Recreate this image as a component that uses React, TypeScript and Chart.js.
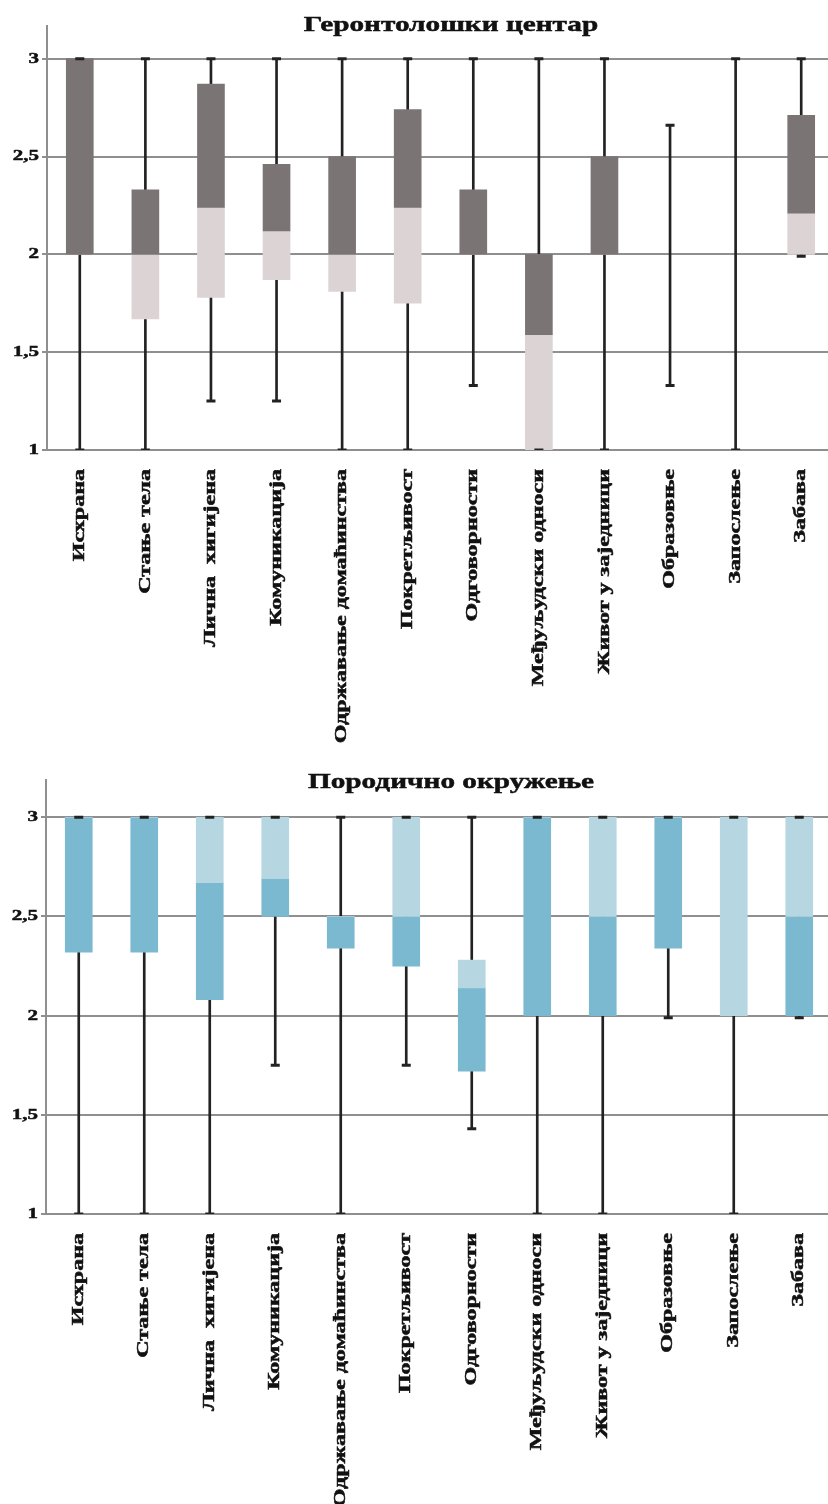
import React, { useEffect, useRef } from "react";
import { Chart, registerables } from "chart.js";

Chart.register(...registerables);

const CATEGORIES = [
  "Исхрана",
  "Стање тела",
  "Лична  хигијена",
  "Комуникација",
  "Одржавање домаћинства",
  "Покретљивост",
  "Одговорности",
  "Међуљудски односи",
  "Живот у заједници",
  "Образовње",
  "Запослење",
  "Забава",
];

const Y_TICKS = [1, 1.5, 2, 2.5, 3];
const Y_TICK_LABELS = ["1", "1,5", "2", "2,5", "3"];

// Геронтолошки центар
const TOP_TITLE = "Геронтолошки центар";
const TOP_MIN = [1, 1, 1.25, 1.25, 1, 1, 1.33, 1, 1, 1.33, 1, 1.99];
const TOP_Q1 = [2, 1.67, 1.78, 1.87, 1.81, 1.75, 2, 1, 2, null, null, 2];
const TOP_MED = [2, 2, 2.24, 2.12, 2, 2.24, 2, 1.59, 2, null, null, 2.21];
const TOP_Q3 = [3, 2.33, 2.87, 2.46, 2.5, 2.74, 2.33, 2, 2.5, null, null, 2.71];
const TOP_MAX = [3, 3, 3, 3, 3, 3, 3, 3, 3, 2.66, 3, 3];

// Породично окружење
const BOTTOM_TITLE = "Породично окружење";
const BOTTOM_MIN = [1, 1, 1, 1.75, 1, 1.75, 1.43, 1, 1, 1.99, 1, 1.99];
const BOTTOM_Q1 = [2.32, 2.32, 2.08, 2.5, 2.34, 2.25, 1.72, 2, 2, 2.34, 2, 2];
const BOTTOM_MED = [3, 3, 2.67, 2.69, 2.5, 2.5, 2.14, 3, 2.5, 3, 2, 2.5];
const BOTTOM_Q3 = [3, 3, 3, 3, 2.5, 3, 2.28, 3, 3, 3, 3, 3];
const BOTTOM_MAX = [3, 3, 3, 3, 3, 3, 3, 3, 3, 3, 3, 3];

const FONT = '"Liberation Serif", "Times New Roman", serif';
const TEXT_COLOR = "#111111";
const GRID_COLOR = "#8f8f8f";
const WHISKER_COLOR = "#222222";

type PanelSpec = {
  title: string;
  min: number[];
  q1: (number | null)[];
  med: (number | null)[];
  q3: (number | null)[];
  max: number[];
  lowerColor: string;
  upperColor: string;
  width: number;
  height: number;
  padTop: number;
  padBottom: number;
  padRight: number;
  axisWidth: number;
  yMax: number;
  titleX: number;
  titleY: number;
};

function makeTextPlugin(spec: PanelSpec) {
  return {
    id: "panelText",
    afterDraw(chart: any) {
      const ctx = chart.ctx as CanvasRenderingContext2D;
      const xs = chart.scales.x;
      const ys = chart.scales.y;
      const area = chart.chartArea;
      ctx.save();
      ctx.fillStyle = TEXT_COLOR;
      ctx.strokeStyle = TEXT_COLOR;
      ctx.lineWidth = 0.5;

      // title
      ctx.save();
      ctx.font = `bold 22px ${FONT}`;
      ctx.textAlign = "center";
      ctx.textBaseline = "alphabetic";
      ctx.translate(spec.titleX, spec.titleY);
      ctx.scale(1.33, 1);
      ctx.fillText(spec.title, 0, 0);
      ctx.strokeText(spec.title, 0, 0);
      ctx.restore();

      // y labels
      ctx.font = `bold 15px ${FONT}`;
      ctx.textAlign = "right";
      ctx.textBaseline = "middle";
      Y_TICKS.forEach((v, i) => {
        const py = ys.getPixelForValue(v);
        ctx.save();
        ctx.translate(area.left - 8, py);
        ctx.scale(1.4, 1);
        ctx.fillText(Y_TICK_LABELS[i], 0, 0);
        ctx.strokeText(Y_TICK_LABELS[i], 0, 0);
        ctx.restore();
      });

      // x labels (rotated)
      ctx.font = `bold 16px ${FONT}`;
      ctx.textAlign = "right";
      ctx.textBaseline = "middle";
      CATEGORIES.forEach((label, i) => {
        const px = xs.getPixelForValue(i);
        ctx.save();
        ctx.translate(px, area.bottom + 19);
        ctx.rotate(-Math.PI / 2);
        ctx.scale(1.5, 1);
        ctx.fillText(label, 0, 0);
        ctx.strokeText(label, 0, 0);
        ctx.restore();
      });
      ctx.restore();
    },
  };
}

function buildConfig(spec: PanelSpec): any {
  const whisker = spec.min.map((m, i) => [m, spec.max[i]]);
  const lower = spec.q1.map((q, i) =>
    q == null || spec.med[i] == null ? null : [q, spec.med[i] as number]
  );
  const upper = spec.q3.map((q, i) =>
    q == null || spec.med[i] == null ? null : [spec.med[i] as number, q]
  );
  const capStyle = {
    type: "line",
    showLine: false,
    pointStyle: "line",
    pointRadius: 4.5,
    pointHoverRadius: 4.5,
    pointBorderWidth: 3,
    pointBorderColor: WHISKER_COLOR,
    pointBackgroundColor: WHISKER_COLOR,
    borderColor: WHISKER_COLOR,
    order: 0,
  };
  return {
    type: "bar",
    data: {
      labels: CATEGORIES,
      datasets: [
        {
          label: "whisker",
          data: whisker,
          backgroundColor: WHISKER_COLOR,
          barThickness: 2,
          grouped: false,
          borderWidth: 0,
          order: 3,
        },
        {
          label: "lower",
          data: lower,
          backgroundColor: spec.lowerColor,
          barThickness: 27,
          grouped: false,
          borderWidth: 0,
          order: 2,
        },
        {
          label: "upper",
          data: upper,
          backgroundColor: spec.upperColor,
          barThickness: 27,
          grouped: false,
          borderWidth: 0,
          order: 1,
        },
        { ...capStyle, label: "min", data: spec.min },
        { ...capStyle, label: "max", data: spec.max },
      ],
    },
    options: {
      responsive: false,
      maintainAspectRatio: false,
      animation: false,
      events: [],
      layout: {
        padding: {
          top: spec.padTop,
          bottom: spec.padBottom,
          right: spec.padRight,
          left: 0,
        },
      },
      plugins: {
        legend: { display: false },
        tooltip: { enabled: false },
        title: { display: false },
      },
      scales: {
        x: {
          type: "category",
          offset: true,
          display: false,
        },
        y: {
          type: "linear",
          min: 1,
          max: spec.yMax,
          afterBuildTicks: (scale: any) => {
            scale.ticks = Y_TICKS.map((v) => ({ value: v }));
          },
          afterFit: (scale: any) => {
            scale.width = spec.axisWidth;
          },
          ticks: { display: false },
          grid: {
            color: GRID_COLOR,
            lineWidth: 2,
            drawTicks: true,
            tickLength: 5,
          },
          border: { display: true, color: GRID_COLOR, width: 2 },
        },
      },
    },
    plugins: [makeTextPlugin(spec)],
  };
}

const TOP_SPEC: PanelSpec = {
  title: TOP_TITLE,
  min: TOP_MIN,
  q1: TOP_Q1,
  med: TOP_MED,
  q3: TOP_Q3,
  max: TOP_MAX,
  lowerColor: "#dcd3d4",
  upperColor: "#7b7474",
  width: 848,
  height: 760,
  padTop: 26,
  padBottom: 310,
  padRight: 14,
  axisWidth: 47,
  yMax: 3.167,
  titleX: 451,
  titleY: 31,
};

const BOTTOM_SPEC: PanelSpec = {
  title: BOTTOM_TITLE,
  min: BOTTOM_MIN,
  q1: BOTTOM_Q1,
  med: BOTTOM_MED,
  q3: BOTTOM_Q3,
  max: BOTTOM_MAX,
  lowerColor: "#7bb9d0",
  upperColor: "#b6d6e2",
  width: 848,
  height: 744,
  padTop: 20,
  padBottom: 290,
  padRight: 16,
  axisWidth: 46,
  yMax: 3.188,
  titleX: 451,
  titleY: 28,
};

function Panel({ spec, top }: { spec: PanelSpec; top: number }) {
  const ref = useRef<HTMLCanvasElement | null>(null);
  useEffect(() => {
    if (!ref.current) return;
    const chart = new Chart(ref.current, buildConfig(spec));
    return () => chart.destroy();
  }, [spec]);
  return (
    <canvas
      ref={ref}
      width={spec.width}
      height={spec.height}
      style={{
        position: "absolute",
        left: 0,
        top,
        width: spec.width,
        height: spec.height,
        display: "block",
      }}
    />
  );
}

export default function App() {
  return (
    <div
      style={{
        position: "absolute",
        left: 0,
        top: 0,
        width: 828,
        height: 1504,
        overflow: "hidden",
        background: "#ffffff",
      }}
    >
      <Panel spec={TOP_SPEC} top={0} />
      <Panel spec={BOTTOM_SPEC} top={760} />
    </div>
  );
}
